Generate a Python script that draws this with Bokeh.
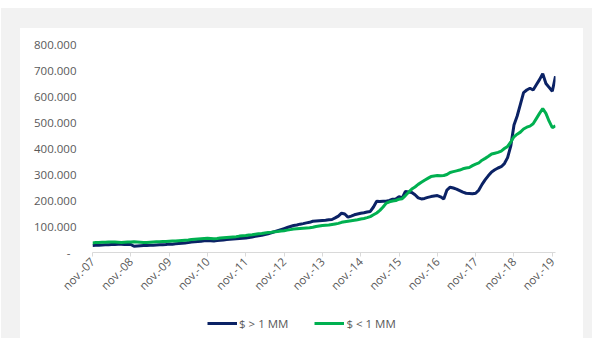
from bokeh.plotting import figure
from bokeh.models import ColumnDataSource, Range1d, FixedTicker, Legend, LegendItem
from bokeh.layouts import column
from bokeh.embed import file_html
from bokeh.resources import INLINE
import pandas as pd

# Monthly balances (thousands), Nov 2007 - Dec 2019
above_1mm = [
    27, 28, 28, 29, 30, 30, 31, 31, 32, 32, 31, 32,
    31, 24, 25, 26, 27, 27, 28, 28, 29, 30, 30, 31,
    33, 32, 34, 35, 36, 37, 38, 40, 41, 42, 43, 45,
    46, 45, 44, 46, 47, 48, 50, 51, 52, 53, 54, 55,
    56, 58, 60, 62, 64, 66, 69, 72, 76, 80, 84, 88,
    92, 96, 100, 104, 106, 109, 111, 114, 116, 120, 121, 122,
    123, 124, 126, 127, 133, 140, 151, 148, 136, 140, 145, 148,
    151, 153, 156, 158, 175, 197, 196, 197, 197, 200, 205, 206,
    215, 210, 235, 233, 231, 222, 210, 206, 208, 212, 215, 217,
    219, 214, 206, 240, 251, 248, 244, 238, 232, 228, 227, 226,
    228, 240, 262, 280, 296, 310, 318, 325, 330, 342, 365, 410,
    490, 525, 570, 615, 625, 632, 625, 645, 665, 688, 650, 635,
    620, 678,
]
below_1mm = [
    37, 38, 38, 39, 39, 40, 40, 40, 39, 38, 39, 40,
    40, 41, 40, 39, 38, 38, 39, 40, 41, 41, 42, 42,
    43, 44, 44, 45, 46, 47, 48, 50, 51, 52, 53, 54,
    55, 54, 53, 54, 56, 57, 58, 59, 60, 61, 63, 64,
    65, 67, 68, 70, 72, 73, 75, 77, 78, 80, 81, 83,
    84, 86, 88, 90, 91, 92, 93, 94, 95, 97, 100, 102,
    104, 105, 106, 108, 110, 112, 116, 118, 120, 122, 124, 126,
    129, 131, 134, 138, 145, 152, 162, 175, 190, 195, 198, 200,
    205, 207, 219, 232, 244, 252, 262, 270, 278, 285, 292, 294,
    296, 295, 296, 300, 308, 311, 314, 317, 322, 325, 327, 334,
    340, 345, 355, 362, 370, 379, 382, 385, 390, 400, 408, 425,
    445, 455, 463, 475, 482, 486, 495, 515, 535, 553, 535, 505,
    480, 487,
]
series_names = ["$ > 1 MM", "$ < 1 MM"]
x_tick_labels = ["nov.-07", "nov.-08", "nov.-09", "nov.-10", "nov.-11", "nov.-12",
                 "nov.-13", "nov.-14", "nov.-15", "nov.-16", "nov.-17", "nov.-18", "nov.-19"]
y_ticks = [0, 100000, 200000, 300000, 400000, 500000, 600000, 700000, 800000]
y_tick_labels = ["-\u00a0\u00a0", "100.000", "200.000", "300.000", "400.000",
                 "500.000", "600.000", "700.000", "800.000"]

dates = pd.date_range("2007-11-01", periods=len(above_1mm), freq="MS")
start = dates[0]
months = [(d.year - start.year) * 12 + (d.month - start.month) for d in dates]

source = ColumnDataSource(dict(
    m=months,
    big=[v * 1000 for v in above_1mm],
    small=[v * 1000 for v in below_1mm],
))

FONT = "Open Sans"
TXT = "#595959"
NAVY = "#0b2265"
GREEN = "#00b050"

p = figure(width=563, height=282, output_backend="svg", toolbar_location=None,
           x_range=Range1d(0, months[-1]), y_range=Range1d(0, 800000),
           min_border_left=72, min_border_right=28, min_border_top=16,
           min_border_bottom=58, background_fill_color="white",
           border_fill_color="white", outline_line_color=None)

p.line("m", "big", source=source, line_color=NAVY, line_width=3)
p.line("m", "small", source=source, line_color=GREEN, line_width=3)

p.xgrid.visible = False
p.ygrid.visible = False

xa = p.xaxis[0]
tick_pos = [months[i] for i, d in enumerate(dates) if d.month == 11]
xa.ticker = FixedTicker(ticks=tick_pos)
xa.major_label_overrides = {t: lab for t, lab in zip(tick_pos, x_tick_labels)}
xa.major_label_orientation = 0.785398
xa.axis_line_color = "#d9d9d9"
xa.major_tick_line_color = "#d9d9d9"
xa.major_tick_out = 4
xa.major_tick_in = 0
xa.minor_tick_line_color = None
xa.major_label_text_font = FONT
xa.major_label_text_font_size = "11.5px"
xa.major_label_text_color = TXT
xa.major_label_standoff = 3

ya = p.yaxis[0]
ya.ticker = FixedTicker(ticks=y_ticks)
ya.major_label_overrides = {t: lab for t, lab in zip(y_ticks, y_tick_labels)}
ya.axis_line_color = None
ya.major_tick_line_color = None
ya.minor_tick_line_color = None
ya.major_tick_out = 0
ya.major_tick_in = 0
ya.major_label_standoff = 16
ya.major_label_text_font = FONT
ya.major_label_text_font_size = "11.5px"
ya.major_label_text_color = TXT

# Legend strip: a bare figure holding only the key
key = figure(width=563, height=28, output_backend="svg", toolbar_location=None,
             x_axis_location=None, y_axis_location=None, min_border=0,
             x_range=Range1d(0, 1), y_range=Range1d(0, 1),
             background_fill_color="white", border_fill_color="white",
             outline_line_color=None)
key.grid.visible = False
k1 = key.line("m", "big", source=source, line_color=NAVY, line_width=3, visible=False)
k2 = key.line("m", "small", source=source, line_color=GREEN, line_width=3, visible=False)

legend = Legend(items=[LegendItem(label=series_names[0], renderers=[k1]),
                       LegendItem(label=series_names[1], renderers=[k2])],
                location=(115, 7), orientation="horizontal",
                glyph_width=30, glyph_height=16, label_height=16,
                label_standoff=2, spacing=26, padding=0, margin=0,
                label_text_font=FONT, label_text_font_size="11.5px",
                label_text_color=TXT, border_line_color=None,
                background_fill_alpha=0, click_policy="none")
key.add_layout(legend, "center")

card = column(p, key, spacing=0, styles={"background-color": "white"},
              margin=(20, 9, 0, 19))
page = column(card, spacing=0, styles={"background-color": "#f2f2f2"},
              margin=(8, 0, 0, 1))

open("out.html", "w").write(file_html(page, INLINE))
